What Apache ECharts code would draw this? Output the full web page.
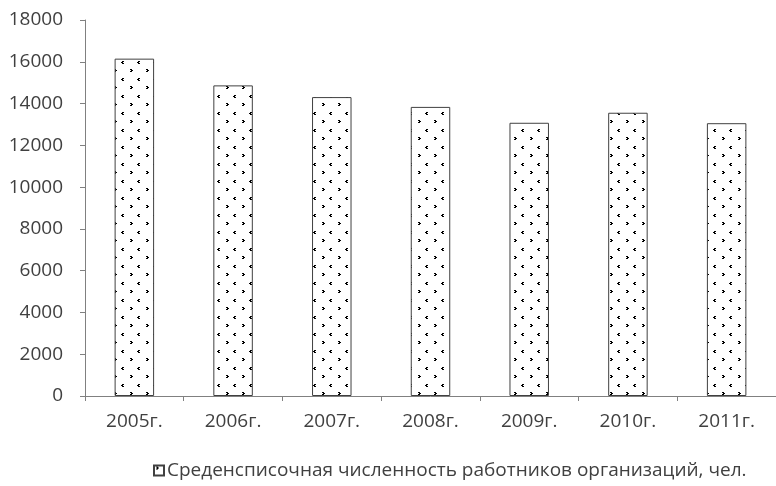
<!DOCTYPE html>
<html>
<head>
<meta charset="utf-8">
<script src="https://cdn.jsdelivr.net/npm/echarts@6/dist/echarts.min.js"></script>
<style>html,body{margin:0;padding:0;background:#fff}#c{width:776px;height:486px}</style>
</head>
<body>
<div id="c"></div>
<script>
const categories = ['2005г.', '2006г.', '2007г.', '2008г.', '2009г.', '2010г.', '2011г.'];
const values = [16150, 14870, 14310, 13840, 13080, 13560, 13060];
const seriesName = 'Среденсписочная численность работников организаций, чел.';
const yTicks = {min: 0, max: 18000, interval: 2000};

function makePattern() {
  const c = document.createElement('canvas');
  c.width = 16; c.height = 17;
  const g = c.getContext('2d');
  g.fillStyle = '#ffffff'; g.fillRect(0, 0, 16, 17);
  g.fillStyle = '#000000';
  // ">" shape
  g.fillRect(2, 1, 2, 1); g.fillRect(3, 2, 2, 1); g.fillRect(2, 3, 2, 1);
  // "<" shape
  g.fillRect(10, 10, 2, 1); g.fillRect(9, 11, 2, 1); g.fillRect(10, 12, 2, 1);
  return c;
}
const pattern = {image: makePattern(), repeat: 'repeat'};

const chart = echarts.init(document.getElementById('c'), null, {renderer: 'canvas'});
const font = '"Open Sans", sans-serif';
chart.setOption({
  animation: false,
  backgroundColor: '#ffffff',
  grid: {left: 85, right: -9, top: 20, bottom: 90},
  legend: {
    data: [seriesName],
    top: 456,
    left: 148,
    itemWidth: 10,
    itemHeight: 10,
    itemGap: 4,
    icon: 'rect',
    textStyle: {fontFamily: font, fontSize: 19, color: '#404040', padding: [0, 0, 0, -2]}
  },
  xAxis: {
    type: 'category',
    data: categories,
    boundaryGap: true,
    axisLine: {lineStyle: {color: '#808080', width: 1}},
    axisTick: {show: true, length: 5, lineStyle: {color: '#808080'}},
    axisLabel: {fontFamily: font, fontSize: 19, color: '#404040', margin: 16}
  },
  yAxis: {
    type: 'value',
    min: yTicks.min, max: yTicks.max, interval: yTicks.interval,
    splitLine: {show: false},
    axisLine: {show: true, lineStyle: {color: '#808080', width: 1}},
    axisTick: {show: true, length: 5, lineStyle: {color: '#808080'}},
    axisLabel: {fontFamily: font, fontSize: 19, color: '#404040', margin: 22, formatter: v => String(v)}
  },
  series: [{
    name: seriesName,
    type: 'bar',
    data: values,
    barWidth: '40%',
    itemStyle: {color: pattern, borderColor: '#404040', borderWidth: 1}
  }]
});
</script>
</body>
</html>
